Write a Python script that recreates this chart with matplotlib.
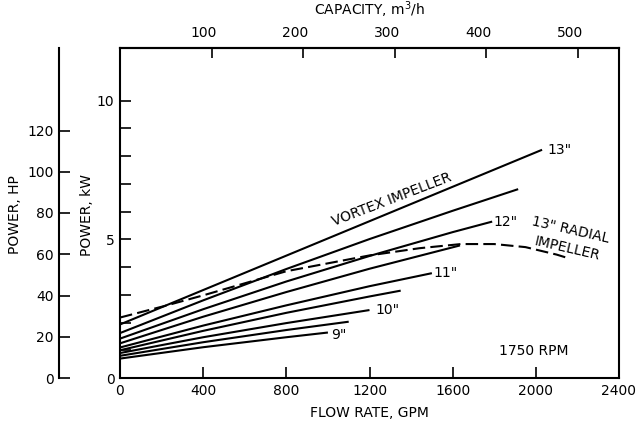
import numpy as np
import matplotlib.pyplot as plt
from matplotlib.transforms import ScaledTranslation

plt.rcParams['font.family'] = 'DejaVu Sans'
plt.rcParams['font.size'] = 10

# vortex impeller curves, 1750 RPM (flow in GPM, power in kW)
diam_labels = ['13"', '', '12"', '', '11"', '', '10"', '', '9"']
curve_gpm = [
    [0, 2030],
    [0, 400, 800, 1200, 1600, 1915],
    [0, 400, 800, 1200, 1600, 1790],
    [0, 400, 800, 1200, 1635],
    [0, 400, 800, 1200, 1500],
    [0, 400, 800, 1200, 1350],
    [0, 400, 800, 1200],
    [0, 400, 800, 1100],
    [0, 400, 800, 1000],
]
curve_kw = [
    [1.93, 8.23],
    [1.62, 2.80, 3.93, 5.01, 6.03, 6.81],
    [1.42, 2.48, 3.48, 4.40, 5.26, 5.64],
    [1.25, 2.21, 3.10, 3.94, 4.78],
    [1.10, 1.89, 2.62, 3.31, 3.78],
    [1.00, 1.70, 2.35, 2.94, 3.15],
    [0.90, 1.47, 1.98, 2.45],
    [0.80, 1.29, 1.73, 2.03],
    [0.70, 1.11, 1.47, 1.64],
]
label_offsets = [(4, 0), (0, 0), (1, 0), (0, 0), (1, 0), (0, 0), (4, 0), (0, 0), (2, -2)]

# 13" radial impeller (dashed)
radial_gpm = [0, 216, 400, 800, 1200, 1440, 1640, 1800, 1950, 2100, 2165]
radial_kw = [2.18, 2.60, 2.98, 3.85, 4.42, 4.68, 4.83, 4.83, 4.72, 4.45, 4.30]

hp_ticks = [0, 20, 40, 60, 80, 100, 120]
gpm_ticks = [0, 400, 800, 1200, 1600, 2000, 2400]
m3h_ticks = [100, 200, 300, 400, 500]

W, H = 642, 421
fig = plt.figure(figsize=(W / 100, H / 100), dpi=100)
ax = fig.add_axes([120 / W, 1 - 378 / H, 499 / W, 330 / H])

for g, k, lab, off in zip(curve_gpm, curve_kw, diam_labels, label_offsets):
    ax.plot(g, k, color='black', lw=1.5, solid_capstyle='butt', solid_joinstyle='round')
    if lab:
        ax.annotate(lab, (g[-1], k[-1]), xytext=off, textcoords='offset points',
                    ha='left', va='center', fontsize=10)

ax.plot(radial_gpm, radial_kw, color='black', lw=1.5, dashes=(6, 2.5))

ax.text(1306, 6.44, 'VORTEX IMPELLER', rotation=21, rotation_mode='anchor',
        ha='center', va='center', fontsize=10)
ax.text(2165, 5.34, '13" RADIAL', rotation=-13, rotation_mode='anchor',
        ha='center', va='center', fontsize=10)
ax.text(2150, 4.68, 'IMPELLER', rotation=-13, rotation_mode='anchor',
        ha='center', va='center', fontsize=10)
ax.text(1990, 0.97, '1750 RPM', ha='center', va='center', fontsize=10)

ax.set_xlim(0, 2400)
ax.set_ylim(0, 11.9)
ax.set_xticks(gpm_ticks)
ax.set_yticks([0, 5, 10])
ax.set_yticks(range(0, 11), minor=True)
ax.tick_params(direction='in', length=8, width=1.2, pad=4, labelsize=10)
ax.tick_params(which='minor', direction='in', length=8, width=1.2)
ax.set_xlabel('FLOW RATE, GPM', fontsize=10, labelpad=6)
for s in ax.spines.values():
    s.set_linewidth(1.5)

top = ax.secondary_xaxis('top', functions=(lambda g: g * 0.2271, lambda m: m / 0.2271))
top.set_xticks(m3h_ticks)
top.tick_params(direction='in', length=7, width=1.2, pad=6, labelsize=10)
top.spines['top'].set_linewidth(1.5)
top.set_xlabel('CAPACITY, m$^3$/h', fontsize=10, labelpad=8)
shift = ScaledTranslation(-8 / 100, 0, fig.dpi_scale_trans)
for t in top.get_xticklabels():
    t.set_transform(t.get_transform() + shift)

# separate HP scale at the far left
hp = fig.add_axes([59 / W, 1 - 378 / H, 0.0001, 330 / H])
hp.patch.set_visible(False)
for side in ['top', 'right', 'bottom']:
    hp.spines[side].set_visible(False)
hp.spines['left'].set_linewidth(1.5)
hp.set_ylim(0, 160)
hp.set_yticks(hp_ticks)
hp.set_xticks([])
hp.tick_params(direction='in', length=8, width=1.2, pad=4, labelsize=10)

fig.text(15 / W, 1 - 215 / H, 'POWER, HP', rotation=90, ha='center', va='center', fontsize=10)
fig.text(87 / W, 1 - 215 / H, 'POWER, kW', rotation=90, ha='center', va='center', fontsize=10)

fig.savefig('out.png', dpi=100)
